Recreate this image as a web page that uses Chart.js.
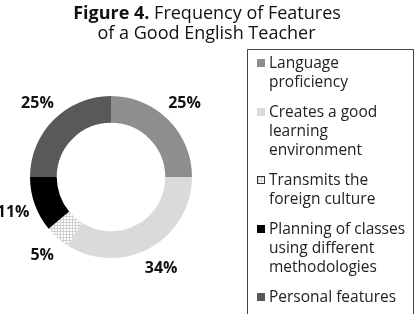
<!DOCTYPE html>
<html><head><meta charset="utf-8">
<script src="https://cdn.jsdelivr.net/npm/chart.js@4/dist/chart.umd.min.js"></script>
<style>html,body{margin:0;padding:0;background:#fff}#wrap{position:relative;width:420px;height:314px}</style>
</head><body><div id="wrap"><canvas id="c" width="420" height="314"></canvas></div>
<script>
const categories = [
  ["Language", "proficiency"],
  ["Creates a good", "learning", "environment"],
  ["Transmits the", "foreign culture"],
  ["Planning of classes", "using different", "methodologies"],
  ["Personal features"]
];
const values = [25, 34, 5, 11, 25];
const percentLabels = ["25%", "34%", "5%", "11%", "25%"];
const titleBold = "Figure 4.";
const titleRest = " Frequency of Features";
const titleLine2 = "of a Good English Teacher";

const FONT = "'Open Sans', 'Noto Sans', sans-serif";

function makePattern() {
  const p = document.createElement('canvas');
  p.width = 3; p.height = 3;
  const x = p.getContext('2d');
  x.fillStyle = '#ffffff'; x.fillRect(0,0,3,3);
  x.fillStyle = '#cfcfcf';
  x.fillRect(0,0,3,1);
  x.fillRect(0,0,1,3);
  return document.getElementById('c').getContext('2d').createPattern(p, 'repeat');
}
const pattern = makePattern();
const colors = ['#8e8e8e', '#dadada', pattern, '#000000', '#595959'];
const legendColors = ['#8e8e8e', '#dadada', null, '#000000', '#595959'];

const overlay = {
  id: 'overlay',
  afterDraw(chart) {
    const ctx = chart.ctx;
    ctx.save();
    // title
    ctx.fillStyle = '#111';
    ctx.textBaseline = 'alphabetic';
    ctx.font = "bold 18px " + FONT;
    const wb = ctx.measureText(titleBold).width;
    ctx.font = "18px " + FONT;
    const wr = ctx.measureText(titleRest).width;
    let x0 = 207 - (wb + wr) / 2;
    ctx.font = "bold 18px " + FONT;
    ctx.textAlign = 'left';
    ctx.fillText(titleBold, x0, 19);
    ctx.font = "18px " + FONT;
    ctx.fillText(titleRest, x0 + wb, 19);
    ctx.textAlign = 'center';
    ctx.fillText(titleLine2, 206.5, 39);

    // percent labels
    const meta = chart.getDatasetMeta(0);
    ctx.font = "bold 16px " + FONT;
    ctx.textAlign = 'center';
    ctx.textBaseline = 'middle';
    ctx.fillStyle = '#111';
    meta.data.forEach((arc, i) => {
      const mid = (arc.startAngle + arc.endAngle) / 2;
      const r = 104;
      ctx.fillText(percentLabels[i], arc.x + Math.cos(mid) * r, arc.y + Math.sin(mid) * r);
    });

    // legend box
    ctx.strokeStyle = '#444';
    ctx.lineWidth = 1;
    ctx.beginPath();
    ctx.moveTo(247.5, 320); ctx.lineTo(247.5, 49.5); ctx.lineTo(413.5, 49.5); ctx.lineTo(413.5, 320);
    ctx.stroke();

    ctx.font = "15.5px " + FONT;
    ctx.textAlign = 'left';
    ctx.textBaseline = 'alphabetic';
    let y = 68;
    const lh = 19;
    categories.forEach((lines, i) => {
      const mx = 257, my = y - 9, ms = 8;
      if (legendColors[i]) {
        ctx.fillStyle = legendColors[i];
        ctx.fillRect(mx, my, ms, ms);
      } else {
        ctx.fillStyle = pattern;
        ctx.fillRect(mx, my, ms, ms);
        ctx.strokeStyle = '#333';
        ctx.strokeRect(mx + 0.5, my + 0.5, ms - 1, ms - 1);
      }
      ctx.fillStyle = '#222';
      lines.forEach((t, k) => ctx.fillText(t, 269, y + k * lh));
      y += lines.length * lh + 11;
    });
    ctx.restore();
  }
};

new Chart(document.getElementById('c'), {
  type: 'doughnut',
  data: {
    labels: categories.map(l => l.join(' ')),
    datasets: [{ data: values, backgroundColor: colors, borderWidth: 0, hoverOffset: 0 }]
  },
  options: {
    responsive: false,
    animation: false,
    cutout: '67%',
    layout: { padding: { left: 30, right: 228, top: 96, bottom: 56 } },
    plugins: { legend: { display: false }, title: { display: false }, tooltip: { enabled: false } },
    events: []
  },
  plugins: [overlay]
});
</script></body></html>
